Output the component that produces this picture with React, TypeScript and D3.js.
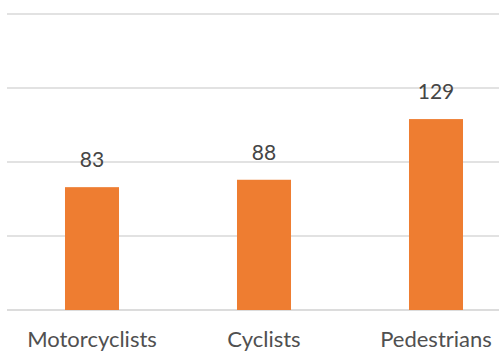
import React from "react";
import * as d3 from "d3";

const categories = ["Motorcyclists", "Cyclists", "Pedestrians"];
const values = [83, 88, 129];
const gridTicks = [0, 50, 100, 150, 200];

export default function App() {
  const W = 499, H = 351;
  const x = d3.scaleBand<string>().domain(categories).range([6, 522]).paddingInner(0.686).paddingOuter(0.343);
  const y = d3.scaleLinear().domain([0, 200]).range([310, 14]);
  const font = "Lato, 'Open Sans', sans-serif";
  return (
    <svg width={W} height={H} style={{ position: "absolute", left: 0, top: 0, background: "#fff" }}>
      {gridTicks.map((t) => (
        <line key={t} x1={7} x2={W} y1={y(t)} y2={y(t)} stroke={t === 0 ? "#d0d0d0" : "#d9d9d9"} strokeWidth={1.5} />
      ))}
      {categories.map((c, i) => (
        <g key={c}>
          <rect x={x(c)} y={y(values[i])} width={x.bandwidth()} height={y(0) - y(values[i])} fill="#ee7d31" />
          <text x={(x(c) as number) + x.bandwidth() / 2} y={y(values[i]) - 20} textAnchor="middle" fontFamily={font} fontSize={21} fill="#454545">
            {values[i]}
          </text>
          <text x={(x(c) as number) + x.bandwidth() / 2} y={347} textAnchor="middle" fontFamily={font} fontSize={22} fill="#505050">
            {c}
          </text>
        </g>
      ))}
    </svg>
  );
}
